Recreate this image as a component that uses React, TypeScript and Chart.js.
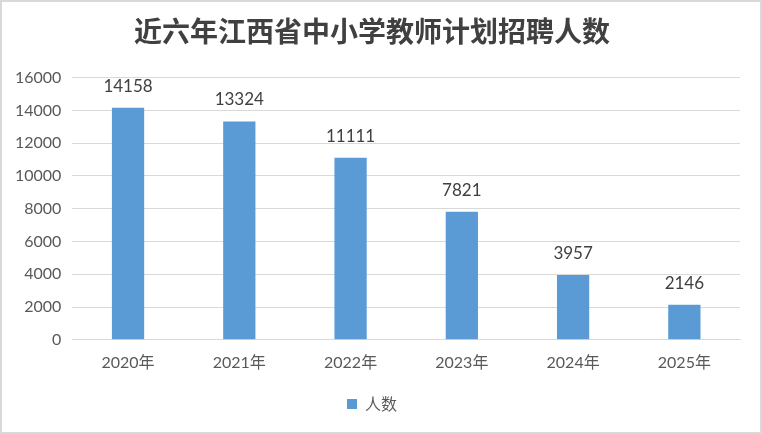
import React, { useEffect, useRef } from "react";
import { Chart, registerables } from "chart.js";

Chart.register(...registerables);

const categories = ["2020年", "2021年", "2022年", "2023年", "2024年", "2025年"];
const values = [14158, 13324, 11111, 7821, 3957, 2146];
const seriesName = "人数";
const titleText = "近六年江西省中小学教师计划招聘人数";

const valueLabels = {
  id: "valueLabels",
  afterDatasetsDraw(chart: any) {
    const ctx = chart.ctx;
    const meta = chart.getDatasetMeta(0);
    ctx.save();
    ctx.font = '17px Lato, "Noto Sans", sans-serif';
    ctx.fillStyle = "#404040";
    ctx.textAlign = "center";
    ctx.textBaseline = "alphabetic";
    meta.data.forEach((bar: any, i: number) => {
      ctx.fillText(String(chart.data.datasets[0].data[i]), bar.x, bar.y - 16);
    });
    ctx.restore();
  },
};

export default function App() {
  const ref = useRef<HTMLCanvasElement>(null);
  useEffect(() => {
    document.body.style.margin = "0";
    const chart = new Chart(ref.current!, {
      type: "bar",
      data: {
        labels: categories,
        datasets: [
          {
            label: seriesName,
            data: values,
            backgroundColor: "#5B9BD5",
            categoryPercentage: 1,
            barPercentage: 0.29,
          },
        ],
      },
      options: {
        animation: false,
        responsive: false,
        devicePixelRatio: 1,
        layout: { padding: { left: 2, right: 20, top: 0, bottom: 10 } },
        plugins: {
          title: {
            display: true,
            text: titleText,
            color: "#404040",
            font: { size: 28, family: '"Noto Sans CJK SC", sans-serif', weight: "bold" },
            padding: { top: 13, bottom: 29 },
          },
          legend: {
            position: "bottom",
            labels: {
              color: "#595959",
              boxWidth: 10,
              boxHeight: 10,
              padding: 19,
              font: { size: 16, family: '"Noto Sans CJK SC", sans-serif' },
            },
          },
          tooltip: { enabled: false },
        },
        scales: {
          x: {
            grid: { display: false },
            border: { display: true, color: "#d9d9d9", width: 1 },
            ticks: {
              color: "#595959",
              padding: 5,
              font: { size: 16, family: 'Lato, "Noto Sans CJK SC", sans-serif' },
            },
          },
          y: {
            min: 0,
            max: 16000,
            ticks: {
              stepSize: 2000,
              color: "#595959",
              padding: 11,
              font: { size: 16, family: 'Lato, "Noto Sans", sans-serif' },
              callback: (v: any) => String(v),
            },
            grid: { color: "#d9d9d9", lineWidth: 1, drawTicks: false },
            border: { display: false },
          },
        },
      },
      plugins: [valueLabels],
    });
    return () => chart.destroy();
  }, []);
  return (
    <div
      style={{
        position: "absolute",
        left: 0,
        top: 0,
        width: 762,
        height: 434,
        boxSizing: "border-box",
        border: "2px solid #d9d9d9",
        background: "#fff",
      }}
    >
      <canvas ref={ref} width={758} height={430} style={{ display: "block" }} />
    </div>
  );
}
